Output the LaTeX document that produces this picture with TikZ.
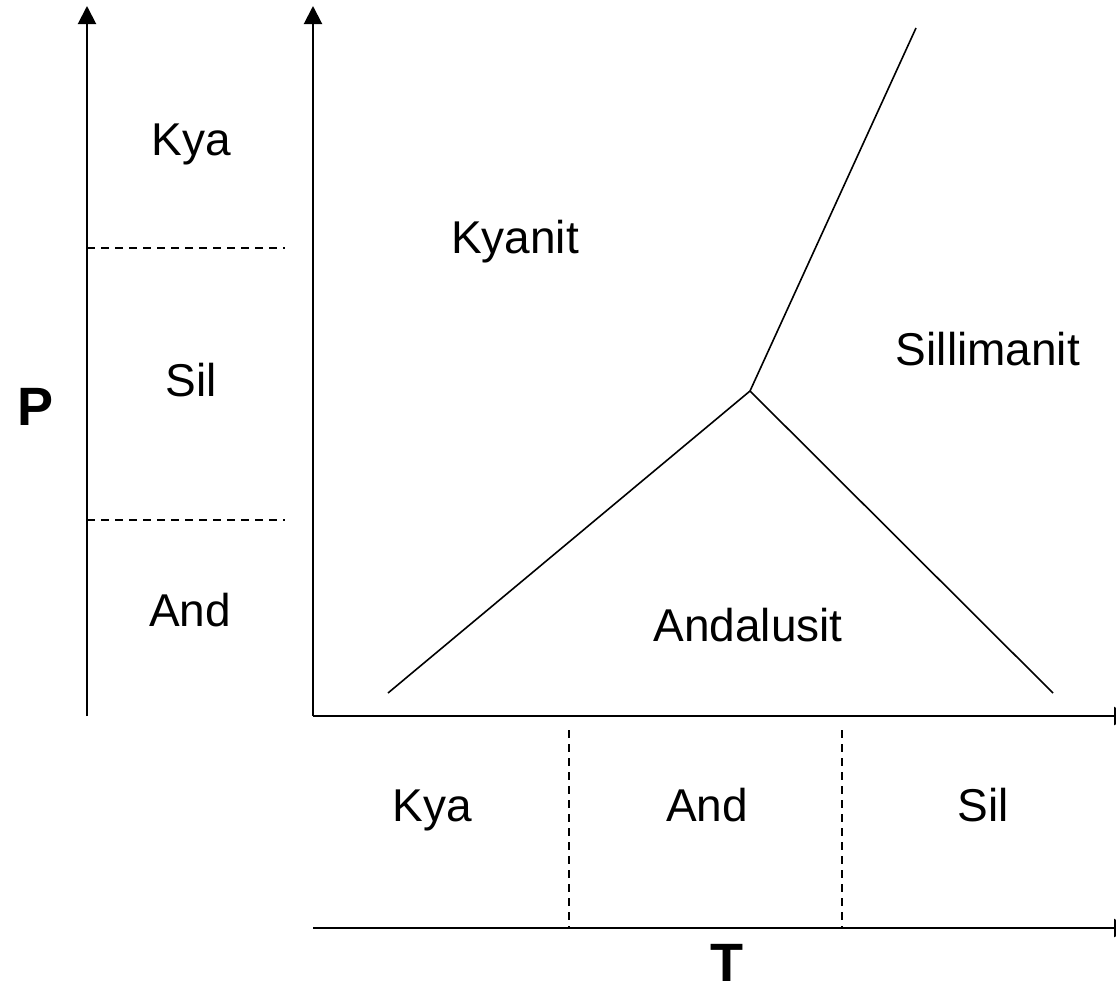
\documentclass[tikz,border=0pt]{standalone}
\usepackage{fontspec}
\setmainfont{Liberation Sans}
\usetikzlibrary{arrows.meta}
\begin{document}
\begin{tikzpicture}[x=1pt,y=-1pt,
  axis/.style={line width=2pt,-{Triangle[length=18pt,width=18pt]}},
  bound/.style={line width=1.6pt},
  sep/.style={line width=1.2pt,dash pattern=on 8pt off 6pt},
  lab/.style={anchor=base,inner sep=0pt,font=\fontsize{46}{54}\selectfont},
  big/.style={anchor=base,inner sep=0pt,font=\fontsize{54}{62}\selectfont\bfseries}]
\useasboundingbox (0,0) rectangle (1116,991);
% axes
\coordinate (p1b) at (87,716);
\coordinate (p1t) at (87,6);
\coordinate (p2b) at (313,716);
\coordinate (p2t) at (313,6);
\coordinate (t1r) at (1132,716);
\coordinate (t2l) at (313,928);
\coordinate (t2r) at (1132,928);
\draw[axis] (p1b) -- (p1t);
\draw[axis] (p2b) -- (p2t);
\draw[axis] (p2b) -- (t1r);
\draw[axis] (t2l) -- (t2r);
% dashed separators
\coordinate (h1a) at (87,248); \coordinate (h1b) at (285,248);
\coordinate (h2a) at (87,520); \coordinate (h2b) at (285,520);
\coordinate (v1a) at (569,730); \coordinate (v1b) at (569,928);
\coordinate (v2a) at (842,730); \coordinate (v2b) at (842,928);
\draw[sep] (h1a) -- (h1b);
\draw[sep] (h2a) -- (h2b);
\draw[sep] (v1a) -- (v1b);
\draw[sep] (v2a) -- (v2b);
% phase boundaries
\coordinate (tp) at (750,391);
\coordinate (ea) at (916,28);
\coordinate (eb) at (388,693);
\coordinate (ec) at (1053,693);
\draw[bound] (tp) -- (ea);
\draw[bound] (tp) -- (eb);
\draw[bound] (tp) -- (ec);
% labels
\node[lab] (lkya) at (191,155) {Kya};
\node[lab] (lsil) at (191,396) {Sil};
\node[lab] (land) at (190,626) {And};
\node[lab] (kyanit) at (515,253) {Kyanit};
\node[lab] (silli) at (988,365) {Sillimanit};
\node[lab] (anda) at (748,641) {Andalusit};
\node[lab] (bkya) at (432,821) {Kya};
\node[lab] (band) at (707,821) {And};
\node[lab] (bsil) at (983,821) {Sil};
\node[big] (P) at (36,425) {P};
\node[big] (T) at (727,981) {T};
\end{tikzpicture}
\end{document}
